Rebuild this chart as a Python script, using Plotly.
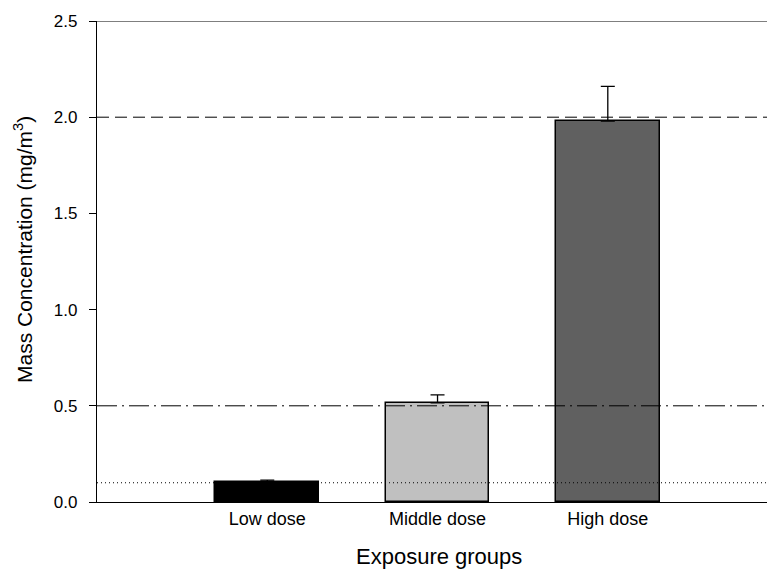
import plotly.graph_objects as go

categories = ["Low dose", "Middle dose", "High dose"]
positions = [1, 2, 3]
values = [0.105, 0.515, 1.98]
errors_up = [0.009, 0.042, 0.18]
bar_colors = ["#000000", "#c0c0c0", "#606060"]

ref_levels = [2.0, 0.5, 0.1]
ref_dashes = ["12px,6px", "20px,5px,2px,5px", "1px,3px"]

y_ticks = [0.0, 0.5, 1.0, 1.5, 2.0, 2.5]
y_ticktext = ["0.0", "0.5", "1.0", "1.5", "2.0", "2.5"]

x_title = "Exposure groups"
y_title = "Mass Concentration (mg/m<sup>3</sup>)"

FONT = "Liberation Sans, Arial, sans-serif"

fig = go.Figure()
fig.add_trace(go.Bar(
    x=positions, y=values, width=0.61,
    marker=dict(color=bar_colors, line=dict(color="black", width=1.5)),
    error_y=dict(type="data", symmetric=False, array=errors_up,
                 arrayminus=[0, 0, 0], color="black", thickness=1.3, width=7),
    showlegend=False, hoverinfo="skip",
))

for lvl, d in zip(ref_levels, ref_dashes):
    fig.add_hline(y=lvl, line=dict(color="black", width=1, dash=d), layer="above")

# top frame line
fig.add_shape(type="line", xref="paper", yref="y", x0=0, x1=1, y0=2.5, y1=2.5,
              line=dict(color="#555555", width=1.6))

# axis titles as annotations
fig.add_annotation(text=x_title, xref="paper", yref="paper", x=0.51, y=-0.114,
                   xanchor="center", yanchor="middle", showarrow=False,
                   font=dict(size=22))
fig.add_annotation(text=y_title, xref="paper", yref="paper", x=-0.1104, y=0.524,
                   xanchor="center", yanchor="middle", showarrow=False,
                   textangle=-90, font=dict(size=21))

fig.update_layout(
    width=767, height=575,
    margin=dict(l=97, r=0, t=21, b=73, autoexpand=False),
    plot_bgcolor="white", paper_bgcolor="white",
    font=dict(family=FONT, color="black", size=17),
    bargap=0,
)
fig.update_xaxes(
    range=[0, 3.935], tickvals=positions, ticktext=categories,
    showline=True, linecolor="black", linewidth=1.2,
    ticks="", showgrid=False, zeroline=False, automargin=False,
    tickfont=dict(size=18),
)
fig.update_yaxes(
    range=[0, 2.5], tickvals=y_ticks, ticktext=y_ticktext,
    showline=True, linecolor="black", linewidth=1.2,
    ticks="outside", ticklen=7, tickwidth=1, tickcolor="black",
    ticklabelstandoff=8,
    showgrid=False, zeroline=False, automargin=False,
    tickfont=dict(size=17),
)

fig.write_html("out.html", config={"displayModeBar": False},
               post_script="document.body.style.margin='0';document.body.style.overflow='hidden';")
